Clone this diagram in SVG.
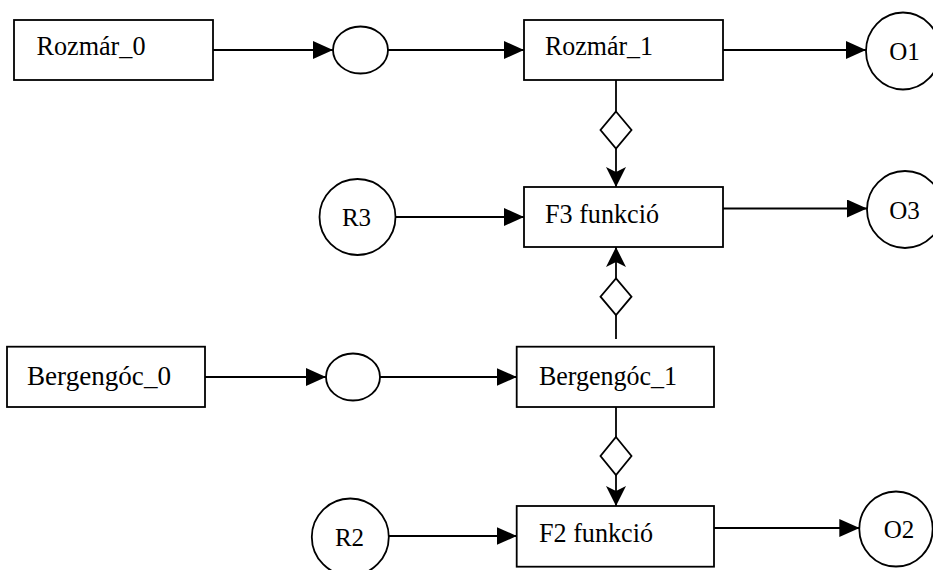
<svg xmlns="http://www.w3.org/2000/svg" width="933" height="570" viewBox="0 0 933 570">
<style>
  .box{fill:#fff;stroke:#000;stroke-width:1.8}
  .shape{fill:#fff;stroke:#000;stroke-width:1.8}
  .lbl{font-family:"Liberation Serif","DejaVu Serif","Times New Roman",serif;font-size:28px;fill:#000}
  .clbl{font-family:"Liberation Serif","DejaVu Serif","Times New Roman",serif;font-size:25px;fill:#000;text-anchor:middle}
  .ln{fill:none;stroke:#000;stroke-width:1.8}
  .arr{marker-end:url(#tri)}
  .sarr{marker-end:url(#stealth)}
  .dia{fill:#fff;stroke:#000;stroke-width:1.8}
</style>
<defs>
  <marker id="tri" markerUnits="userSpaceOnUse" markerWidth="20" markerHeight="18" refX="20" refY="9" orient="auto">
    <path d="M0,0 L20,9 L0,18 z" fill="#000"/>
  </marker>
  <marker id="stealth" markerUnits="userSpaceOnUse" markerWidth="20" markerHeight="20" refX="20" refY="10" orient="auto">
    <path d="M0,0 L20,10 L0,20 L5,10 z" fill="#000"/>
  </marker>
</defs>
<rect width="933" height="570" fill="#fff"/>
<g id="connectors">
  <line class="ln arr" x1="213" y1="50" x2="333" y2="50"/>
  <line class="ln arr" x1="388" y1="50" x2="524" y2="50"/>
  <line class="ln arr" x1="723" y1="50" x2="866" y2="50"/>
  <line class="ln" x1="616" y1="80" x2="616" y2="111.5"/>
  <polygon class="dia" points="616,111.5 631.5,130 616,148.5 600.5,130"/>
  <line class="ln sarr" x1="616" y1="148.5" x2="616" y2="187"/>
  <line class="ln arr" x1="395.5" y1="217" x2="524" y2="217"/>
  <line class="ln arr" x1="723" y1="208.5" x2="867" y2="208.5"/>
  <line class="ln" x1="616" y1="339" x2="616" y2="315"/>
  <polygon class="dia" points="616,278.3 631.5,296.7 616,315 600.5,296.7"/>
  <line class="ln sarr" x1="616" y1="278.3" x2="616" y2="247"/>
  <line class="ln arr" x1="205" y1="377" x2="326" y2="377"/>
  <line class="ln arr" x1="380" y1="377" x2="516.7" y2="377"/>
  <line class="ln" x1="616" y1="407" x2="616" y2="437"/>
  <polygon class="dia" points="616,437 631.5,456 616,475 600.5,456"/>
  <line class="ln sarr" x1="616" y1="475" x2="616" y2="506"/>
  <line class="ln arr" x1="389" y1="536" x2="516.7" y2="536"/>
  <line class="ln arr" x1="714" y1="528" x2="859.3" y2="528"/>
</g>
<g id="rozmar0">
  <rect class="box" x="14" y="20" width="199" height="60"/>
  <text class="lbl" x="36.5" y="55" textLength="109" lengthAdjust="spacingAndGlyphs">Rozmár_0</text>
</g>
<g id="ell1">
  <ellipse class="shape" cx="360.5" cy="50" rx="27.5" ry="23.5"/>
</g>
<g id="rozmar1">
  <rect class="box" x="524" y="20" width="199" height="60"/>
  <text class="lbl" x="545" y="55" textLength="108" lengthAdjust="spacingAndGlyphs">Rozmár_1</text>
</g>
<g id="o1">
  <ellipse class="shape" cx="903" cy="51" rx="37" ry="38.5"/>
  <text class="clbl" x="904.5" y="59.5">O1</text>
</g>
<g id="r3">
  <circle class="shape" cx="357.5" cy="217" r="38"/>
  <text class="clbl" x="356.5" y="226">R3</text>
</g>
<g id="f3">
  <rect class="box" x="524" y="187" width="199" height="60"/>
  <text class="lbl" x="545" y="223" textLength="114" lengthAdjust="spacingAndGlyphs">F3 funkció</text>
</g>
<g id="o3">
  <ellipse class="shape" cx="905" cy="209.5" rx="38" ry="38.5"/>
  <text class="clbl" x="904.5" y="219">O3</text>
</g>
<g id="bergengoc0">
  <rect class="box" x="7" y="346.7" width="198" height="60.3"/>
  <text class="lbl" x="27" y="385" textLength="144" lengthAdjust="spacingAndGlyphs">Bergengóc_0</text>
</g>
<g id="ell2">
  <ellipse class="shape" cx="353" cy="377" rx="27" ry="23.5"/>
</g>
<g id="bergengoc1">
  <rect class="box" x="516.7" y="346.7" width="197.3" height="60.3"/>
  <text class="lbl" x="539" y="385" textLength="138" lengthAdjust="spacingAndGlyphs">Bergengóc_1</text>
</g>
<g id="r2">
  <circle class="shape" cx="350.3" cy="537" r="38.5"/>
  <text class="clbl" x="349.5" y="546">R2</text>
</g>
<g id="f2">
  <rect class="box" x="516.7" y="506" width="197.3" height="60.7"/>
  <text class="lbl" x="539" y="541.7" textLength="114" lengthAdjust="spacingAndGlyphs">F2 funkció</text>
</g>
<g id="o2">
  <ellipse class="shape" cx="896" cy="529" rx="36.7" ry="37.5"/>
  <text class="clbl" x="899" y="538.3">O2</text>
</g>
</svg>
